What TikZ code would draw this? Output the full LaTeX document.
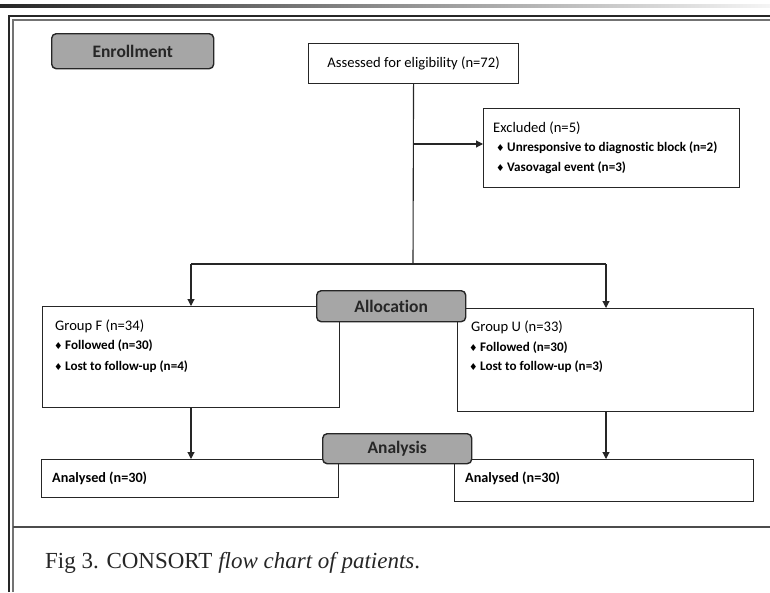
\documentclass[tikz,border=0pt]{standalone}
\usepackage{fontspec}
\setmainfont{Carlito}[Ligatures=NoCommon]
\newfontfamily\capfont{Liberation Serif}
\newfontfamily\symfont{DejaVu Sans}
\usetikzlibrary{arrows.meta}
\newcommand\bul{\makebox[11pt][l]{\symfont\fontsize{9.5}{10}\selectfont ♦}}
\begin{document}
\begin{tikzpicture}[x=1pt,y=-1pt,
  stagebox/.style={draw=black!85, line width=1.4pt, rounded corners=4.5pt, fill=black!35,
    font=\fontsize{17.5}{20}\selectfont\bfseries, text=black!85, inner sep=0pt, anchor=north west},
  box/.style={draw=black!85, line width=1.1pt, fill=white, inner sep=0pt, anchor=north west},
  ttl/.style={anchor=base west, inner sep=0pt, font=\fontsize{14.6}{17}\selectfont, text=black},
  itm/.style={anchor=base west, inner sep=0pt, font=\fontsize{13.1}{15}\selectfont\bfseries, text=black},
  conn/.style={line width=1.1pt, draw=black!85},
  arr/.style={conn, -{Triangle[width=7pt,length=7pt]}}
]
\useasboundingbox (0,0) rectangle (770,592);
% top bar and frame
\shade[left color=black!85, right color=black!4] (0,4) rectangle (770,7.5);
\draw[line width=2pt, black!85] (9,592) -- (9,16) -- (770,16);
\draw[line width=1.4pt, black!55] (13,592) -- (13,20) -- (770,20);
\draw[line width=1.4pt, black!70] (13,527) -- (770,527);

% boxes
\node[box, minimum width=210, minimum height=40, font=\fontsize{14.6}{17}\selectfont] (asd) at (308,43) {Assessed for eligibility (n=72)};
\node[box, minimum width=256, minimum height=79] (exc) at (483,108) {};
\node[ttl] (exct) at (493,132) {Excluded (n=5)};
\node[itm] (exc1) at (496,151) {\bul Unresponsive to diagnostic block (n=2)};
\node[itm] (exc2) at (496,171) {\bul Vasovagal event (n=3)};

\node[box, minimum width=297, minimum height=101] (gf) at (42,306) {};
\node[ttl] (gft) at (55,330) {Group F (n=34)};
\node[itm] (gf1) at (54,349) {\bul Followed (n=30)};
\node[itm] (gf2) at (54,370) {\bul Lost to follow-up (n=4)};

\node[box, minimum width=296, minimum height=103] (gu) at (457,308) {};
\node[ttl] (gut) at (471,331) {Group U (n=33)};
\node[itm] (gu1) at (469,351) {\bul Followed (n=30)};
\node[itm] (gu2) at (469,370) {\bul Lost to follow-up (n=3)};

\node[box, minimum width=297, minimum height=38] (anl) at (41,459) {};
\node[itm, font=\fontsize{14.2}{16}\selectfont\bfseries] (anlt) at (52,482) {Analysed (n=30)};
\node[box, minimum width=299, minimum height=42] (anr) at (454,459) {};
\node[itm, font=\fontsize{14.2}{16}\selectfont\bfseries] (anrt) at (465,482) {Analysed (n=30)};

% connectors
\coordinate (br) at (413,144);
\coordinate (split) at (413,264);
\coordinate (lt) at (191,264);
\coordinate (rt) at (606,264);
\draw[conn] (asd.south) -- (split);
\draw[arr] (br) -- (br -| exc.west);
\draw[conn] (lt) -- (rt);
\draw[arr] (lt) -- (lt |- gf.north);
\draw[arr] (rt) -- (rt |- gu.north);
\draw[arr] (gf.south -| lt) -- (anl.north -| lt);
\draw[arr] (gu.south -| rt) -- (anr.north -| rt);

% stage labels
\node[stagebox, minimum width=162, minimum height=35] (enr) at (51,33) {Enrollment};
\node[stagebox, minimum width=149, minimum height=31] (alc) at (316,290) {Allocation};
\node[stagebox, minimum width=149, minimum height=30] (ana) at (322,433) {Analysis};

% caption
\node[anchor=base west, inner sep=0pt, text=black!85, font=\capfont\fontsize{23}{27}\selectfont] (cap) at (45,568) {Fig 3. CONSORT \textit{flow chart of patients}.};
\end{tikzpicture}
\end{document}
